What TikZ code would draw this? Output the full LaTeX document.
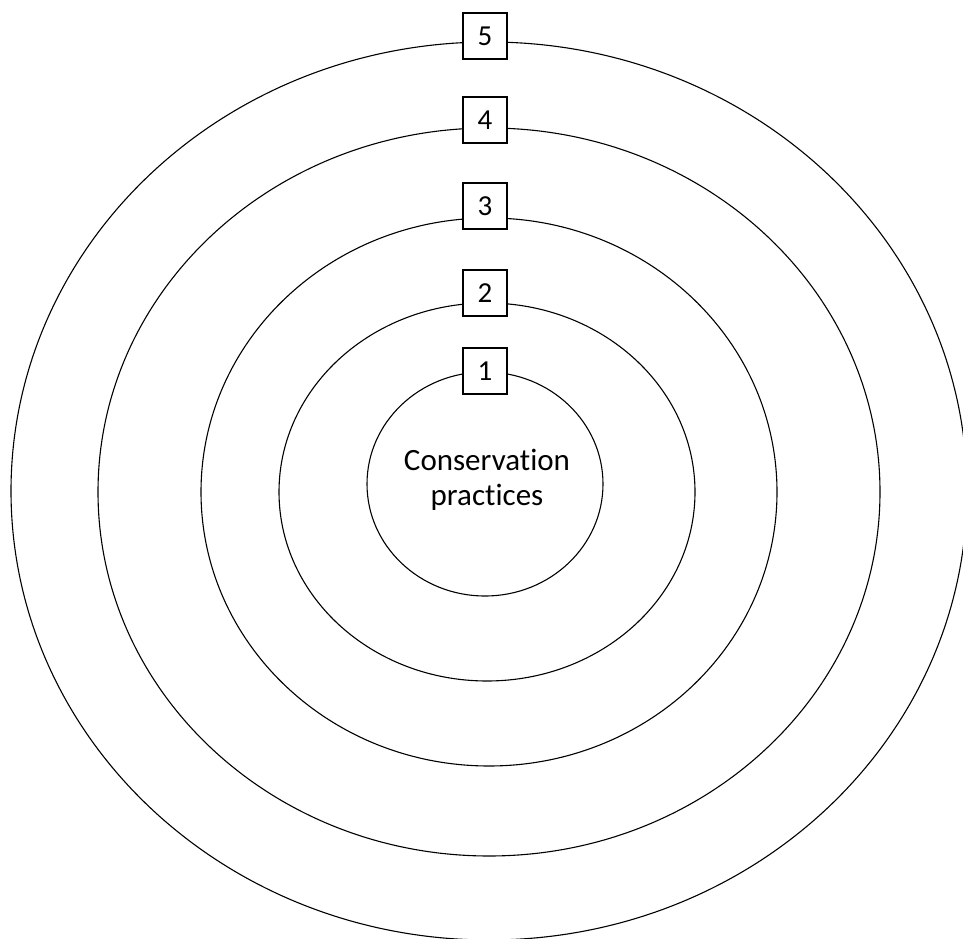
\documentclass[tikz,border=0pt]{standalone}
\usepackage{fontspec}
\setmainfont[Ligatures=NoCommon]{Carlito}
\usetikzlibrary{shapes.geometric}

\tikzset{
  ring/.style={draw,ellipse,line width=1.1pt,inner sep=0pt,outer sep=0pt},
  numbox/.style={draw,fill=white,line width=1.2pt,minimum width=44pt,minimum height=46pt,inner sep=0pt,font=\fontsize{29}{35}\selectfont}
}

\begin{document}
\begin{tikzpicture}[x=1pt,y=1pt]
    \useasboundingbox (0,0) rectangle (963,938);
    \clip (0,0) rectangle (963,938);

    \node[ring,minimum width=956pt,minimum height=898pt] (r5) at (489,447) {};
    \node[ring,minimum width=782pt,minimum height=728pt] (r4) at (489,446) {};
    \node[ring,minimum width=576pt,minimum height=548pt] (r3) at (489,446) {};
    \node[ring,minimum width=416pt,minimum height=378pt] (r2) at (487,446) {};
    \node[ring,minimum width=236pt,minimum height=224pt] (r1) at (485,454) {};

    \node[align=center,font=\fontsize{31}{35}\selectfont] (core) at (487,458) {Conservation\\practices};

    \node[numbox] (b5) at (485,902) {5};
    \node[numbox] (b4) at (485,818) {4};
    \node[numbox] (b3) at (485,732) {3};
    \node[numbox] (b2) at (485,645) {2};
    \node[numbox] (b1) at (485,567) {1};
\end{tikzpicture}
\end{document}
